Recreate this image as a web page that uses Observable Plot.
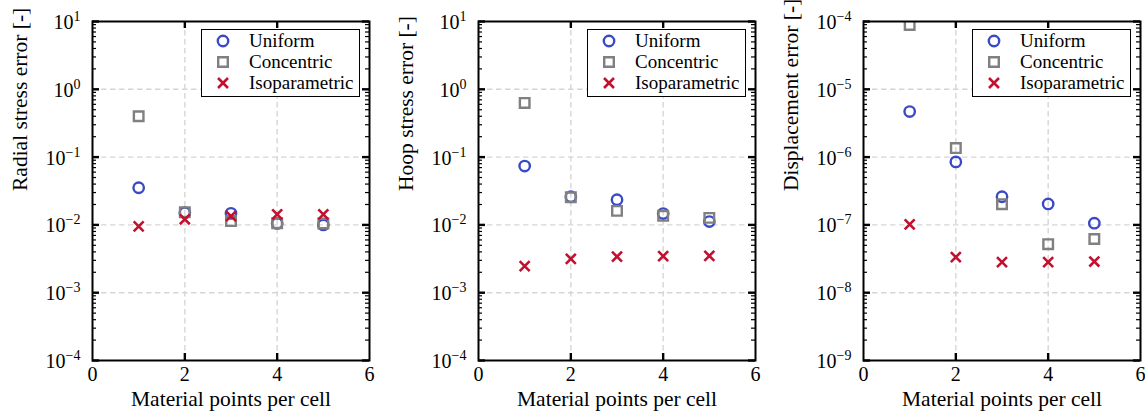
<!DOCTYPE html>
<html>
<head>
<meta charset="utf-8">
<script src="https://cdn.jsdelivr.net/npm/d3@7"></script>
<script src="https://cdn.jsdelivr.net/npm/@observablehq/plot@0.6"></script>
<style>
  body { margin: 0; background: #fff; }
  #fig { position: relative; width: 1145px; height: 417px; font-family: "Liberation Serif", serif; color: #000; }
  #fig svg.panel { position: absolute; top: 0; overflow: visible; }
  .legend { position: absolute; box-sizing: border-box; width: 159px; height: 68px; border: 1.5px solid #000; background: #fff; }
  .legend .sym { position: absolute; left: 13px; width: 16px; height: 16px; overflow: visible; }
  .legend .lab { position: absolute; left: 47px; font-size: 19px; line-height: 21px; white-space: nowrap; }
</style>
</head>
<body>
<div id="fig"></div>
<script>
// Material points per cell
const points = [1, 2, 3, 4, 5];
const methods = ["Uniform", "Concentric", "Isoparametric"];

// Radial stress error
const radialUniform = [0.0353, 0.0151, 0.0148, 0.0105, 0.0100];
const radialConcentric = [0.40, 0.0154, 0.0114, 0.0106, 0.0105];
const radialIsoparametric = [0.0095, 0.0121, 0.0135, 0.0143, 0.0143];

// Hoop stress error
const hoopUniform = [0.0737, 0.0260, 0.0235, 0.0147, 0.0112];
const hoopConcentric = [0.63, 0.0256, 0.0161, 0.0136, 0.0127];
const hoopIsoparametric = [0.00247, 0.00316, 0.00340, 0.00346, 0.00349];

// Displacement error
const dispUniform = [4.7e-6, 8.5e-7, 2.6e-7, 2.04e-7, 1.06e-7];
const dispConcentric = [8.9e-5, 1.36e-6, 2.02e-7, 5.2e-8, 6.2e-8];
const dispIsoparametric = [1.02e-7, 3.35e-8, 2.82e-8, 2.82e-8, 2.88e-8];

// axis ticks
const xTicks = [0, 2, 4, 6];
const xLabel = "Material points per cell";

const FONT = "'Liberation Serif', serif";
const colors = { Uniform: "#3a4ac6", Concentric: "#808080", Isoparametric: "#c2102f" };
const symbols = { Uniform: "circle", Concentric: "square", Isoparametric: "times" };
const radii = { Uniform: 5.2, Concentric: 5.4, Isoparametric: 4.6 };
const widths = { Uniform: 2.4, Concentric: 2.4, Isoparametric: 2.6 };

const panels = [
  { left: 0, width: 380, marginLeft: 92, label: "Radial stress error [-]", exps: [-4, 1],
    series: [radialUniform, radialConcentric, radialIsoparametric] },
  { left: 380, width: 390, marginLeft: 98, label: "Hoop stress error [-]", exps: [-4, 1],
    series: [hoopUniform, hoopConcentric, hoopIsoparametric] },
  { left: 768, width: 377, marginLeft: 95, label: "Displacement error [-]", exps: [-9, -4],
    series: [dispUniform, dispConcentric, dispIsoparametric] }
];

const fig = document.getElementById("fig");
const HEIGHT = 417, MT = 21, MB = 57, PW = 277;
const PH = HEIGHT - MT - MB;
const MAJOR = 7, MINOR = 4;
const TICK_FONT = 20, LABEL_FONT = 21.5;

for (const p of panels) {
  const [lo, hi] = p.exps;
  const decades = d3.range(lo, hi + 1).map(e => 10 ** e);
  const minor = d3.range(lo, hi).flatMap(e => d3.range(2, 10).map(k => k * 10 ** e));
  const inner = decades.slice(1, -1);
  const rows = methods.flatMap((m, i) => points.map((x, j) => ({ method: m, x, y: p.series[i][j] })));
  const tickStyle = { stroke: "#000" };
  const gridStyle = { stroke: "#d6d6d6", strokeOpacity: 1, strokeWidth: 1.4, strokeDasharray: "5.5,3.5" };

  const svg = Plot.plot({
    width: p.width,
    height: HEIGHT,
    marginLeft: p.marginLeft,
    marginRight: p.width - p.marginLeft - PW,
    marginTop: MT,
    marginBottom: MB,
    style: { fontSize: TICK_FONT + "px", color: "#000", background: "transparent" },
    x: { domain: [0, 6], ticks: xTicks },
    y: { type: "log", domain: [10 ** lo, 10 ** hi] },
    marks: [
      // dashed grid
      Plot.gridX([2, 4], gridStyle),
      Plot.gridY(inner, gridStyle),
      // tick labels
      Plot.axisX(xTicks, { tickSize: 0, tickPadding: 6.5, label: null, fontSize: TICK_FONT, fill: "#000" }),
      Plot.axisY(decades, { tickSize: 0, tickPadding: 12, dy: 1, label: null, fontSize: TICK_FONT, fill: "#000",
        tickFormat: d => "10^" + Math.round(Math.log10(d)) }),
      // inward ticks on all four sides
      Plot.ruleY(decades, { ...tickStyle, strokeWidth: 2.4, insetRight: PW - MAJOR }),
      Plot.ruleY(decades, { ...tickStyle, strokeWidth: 2.4, insetLeft: PW - MAJOR }),
      Plot.ruleY(minor, { ...tickStyle, strokeWidth: 1.2, insetRight: PW - MINOR }),
      Plot.ruleY(minor, { ...tickStyle, strokeWidth: 1.2, insetLeft: PW - MINOR }),
      Plot.ruleX([2, 4], { ...tickStyle, strokeWidth: 2.4, insetTop: PH - MAJOR }),
      Plot.ruleX([2, 4], { ...tickStyle, strokeWidth: 2.4, insetBottom: PH - MAJOR }),
      // axis titles
      Plot.text([p.label], { frameAnchor: "left", lineAnchor: "middle", rotate: -90, dx: -72, fontSize: LABEL_FONT, fill: "#000" }),
      Plot.text([xLabel], { frameAnchor: "bottom", lineAnchor: "middle", dy: 38.5, fontSize: LABEL_FONT, fill: "#000" }),
      // data
      ...methods.map(m => Plot.dot(rows.filter(d => d.method === m), {
        x: "x", y: "y", symbol: symbols[m], r: radii[m], stroke: colors[m], fill: "none",
        strokeWidth: widths[m], clip: true
      })),
      Plot.frame({ stroke: "#000", strokeWidth: 2 })
    ]
  });
  svg.classList.add("panel");
  svg.style.left = p.left + "px";
  svg.style.fontFamily = FONT;

  // superscript exponents on the log axis labels
  d3.select(svg).selectAll('g[aria-label="y-axis tick label"] text').each(function () {
    const [base, exp] = this.textContent.split("^");
    const t = d3.select(this);
    t.text(null);
    t.append("tspan").text(base);
    t.append("tspan").attr("dy", -8).attr("font-size", 14).text(exp.replace("-", "\u2212"));
  });
  // serif face on every label in the panel
  d3.select(svg).selectAll("g, text, tspan").attr("font-family", null).style("font-family", FONT);
  fig.appendChild(svg);

  // legend box in the upper right of the frame
  const frameRight = p.left + p.marginLeft + PW;
  const lg = document.createElement("div");
  lg.className = "legend";
  lg.style.left = (frameRight - 9 - 159) + "px";
  lg.style.top = "29px";
  methods.forEach((m, i) => {
    const cy = 11 + 21 * i;
    const s = d3.create("svg").attr("class", "sym").attr("viewBox", "-8 -8 16 16")
      .style("top", (cy - 8) + "px");
    const area = Math.PI * radii[m] * radii[m];
    const shape = { circle: d3.symbolCircle, square: d3.symbolSquare, times: d3.symbolTimes }[symbols[m]];
    s.append("path").attr("d", d3.symbol(shape, area)()).attr("fill", "none")
      .attr("stroke", colors[m]).attr("stroke-width", widths[m]);
    lg.appendChild(s.node());
    const lab = document.createElement("div");
    lab.className = "lab";
    lab.style.top = (cy - 11) + "px";
    lab.textContent = m;
    lg.appendChild(lab);
  });
  fig.appendChild(lg);
}
</script>
</body>
</html>
